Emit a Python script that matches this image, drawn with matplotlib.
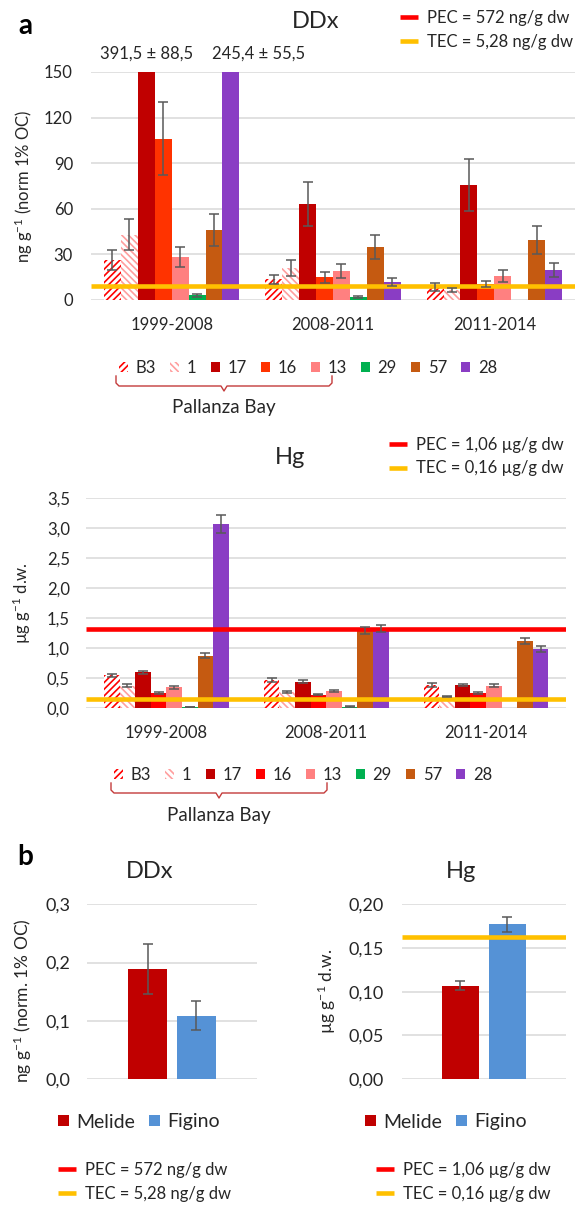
import numpy as np
import matplotlib.pyplot as plt
from matplotlib.lines import Line2D
from matplotlib.ticker import FuncFormatter

plt.rcParams['font.family'] = ['Lato', 'DejaVu Sans']
plt.rcParams['mathtext.fontset'] = 'custom'
plt.rcParams['mathtext.rm'] = 'Lato'
plt.rcParams['mathtext.it'] = 'Lato:italic'
plt.rcParams['mathtext.bf'] = 'Lato:bold'
plt.rcParams['hatch.linewidth'] = 1.2

# ---- data ----
periods = ['1999-2008', '2008-2011', '2011-2014']
sites = ['B3', '1', '17', '16', '13', '29', '57', '28']

# rows = sites, columns = periods
ddx_mean = [[26.5, 13.5, 8.5], [43, 21, 6.5], [391.5, 63, 75.5], [106, 15, 10.5],
            [28.5, 19, 16], [3, 2, np.nan], [46, 35, 39.5], [245.4, 12, 20]]
ddx_err = [[6.5, 3, 2.5], [10, 5, 1.5], [88.5, 14.5, 17], [24, 3.5, 2],
           [6.5, 4.5, 4], [1, 0.5, np.nan], [10.5, 8, 9.3], [55.5, 2.5, 4.6]]

hg_mean = [[0.55, 0.475, 0.39], [0.375, 0.27, 0.2], [0.6, 0.445, 0.39], [0.25, 0.23, 0.25],
           [0.35, 0.295, 0.375], [0.02, 0.03, np.nan], [0.88, 1.30, 1.13], [3.07, 1.33, 0.99]]
hg_err = [[0.03, 0.03, 0.03], [0.025, 0.02, 0.005], [0.03, 0.03, 0.02], [0.015, 0.01, 0.015],
          [0.02, 0.015, 0.025], [0.005, 0.005, np.nan], [0.045, 0.06, 0.05], [0.15, 0.06, 0.05]]

lakes = ['Melide', 'Figino']
ddx_b_mean = [0.189, 0.109]
ddx_b_err = [0.043, 0.025]
hg_b_mean = [0.107, 0.177]
hg_b_err = [0.005, 0.009]

# guideline levels as drawn in the figure
ddx_pec, ddx_tec = 572, 9.0
hg_pec, hg_tec = 1.32, 0.16
ddx_b_pec, ddx_b_tec = 572, 5.28
hg_b_pec, hg_b_tec = 1.06, 0.163

ddx_pec_lbl = 'PEC = 572 ng/g dw'
ddx_tec_lbl = 'TEC = 5,28 ng/g dw'
hg_pec_lbl = 'PEC = 1,06 µg/g dw'
hg_tec_lbl = 'TEC = 0,16 µg/g dw'

# ---- styles ----
ddx_colors = ['#FF0000', '#FF9E9E', '#C00000', '#FF3300', '#FF8080', '#00B050', '#C55A11', '#8A3DC4']
hg_colors = ['#FF0000', '#FF9E9E', '#C00000', '#FF0000', '#FF8080', '#00B050', '#C55A11', '#8A3DC4']
hatches = ['/////', '\\\\\\\\\\', None, None, None, None, None, None]
lake_colors = ['#C00000', '#5592D6']
PEC_C, TEC_C = '#FF0000', '#FFC000'
GRID = '#D9D9D9'
TXT = '#262626'
ekw = dict(ecolor='#595959', elinewidth=1.1, capsize=3.5, capthick=1.1, zorder=4)

W, H = 575, 1211
fig = plt.figure(figsize=(W / 100, H / 100), dpi=100)


def fx(px):
    return px / W


def fy(py):
    return 1 - py / H


def rect(x0, x1, ytop, ybot):
    return [fx(x0), fy(ybot), (x1 - x0) / W, (ybot - ytop) / H]


def comma(fmt):
    return FuncFormatter(lambda v, p: format(v, fmt).replace('.', ','))


def style(ax, ticks, fmt, ypad, size):
    ax.set_yticks(ticks)
    ax.set_ylim(ticks[0], ticks[-1])
    ax.yaxis.set_major_formatter(comma(fmt))
    ax.yaxis.grid(True, color=GRID, lw=1.1)
    ax.set_axisbelow(True)
    for s in ax.spines.values():
        s.set_visible(False)
    ax.tick_params(axis='y', length=0, pad=ypad, labelsize=size, labelcolor=TXT)


def grouped(ax, means, errs, colors, width):
    x = np.arange(len(periods))
    conts = []
    for i, s in enumerate(sites):
        pos = x + (i - 3.5) * width
        if hatches[i]:
            kw = dict(color='white', edgecolor=colors[i], hatch=hatches[i], linewidth=0)
        else:
            kw = dict(color=colors[i], linewidth=0)
        conts.append(ax.bar(pos, means[i], width, yerr=errs[i], error_kw=ekw, **kw))
    ax.set_xticks(x)
    ax.set_xticklabels(periods)
    ax.set_xlim(-0.5, 2.5)
    ax.tick_params(axis='x', length=0, pad=12, labelsize=12, labelcolor=TXT)
    return conts


def brace(x0, x1, ytop, ybot, ytip, text, ytext):
    xm = (x0 + x1) / 2
    xs = [x0, x0, x0 + 3, xm - 3, xm, xm + 3, x1 - 3, x1, x1]
    ys = [ytop, ybot - 3, ybot, ybot, ytip, ybot, ybot, ybot - 3, ytop]
    fig.add_artist(Line2D([fx(v) for v in xs], [fy(v) for v in ys], color='#C43B3B', lw=1.0))
    fig.text(fx(xm), fy(ytext), text, ha='center', va='center', fontsize=13.5, color=TXT)


def series_legend(handles, x, y):
    fig.legend(handles, sites, ncol=8, loc='center left', bbox_to_anchor=(fx(x), fy(y)),
               frameon=False, fontsize=12, handlelength=0.55, handleheight=0.55,
               handletextpad=0.45, columnspacing=0.85, borderpad=0, borderaxespad=0,
               labelcolor=TXT)


def level_legend(lines, labels, x, y):
    fig.legend(lines, labels, loc='upper left', bbox_to_anchor=(fx(x), fy(y)),
               frameon=False, fontsize=12, handlelength=1.1, handletextpad=0.5,
               labelspacing=0.45, borderpad=0, borderaxespad=0, labelcolor=TXT)


def hline(ax, y, c):
    return ax.axhline(y, color=c, lw=3.3, zorder=3, solid_capstyle='butt')


# ---- panel a: DDx ----
ax1 = fig.add_axes(rect(91, 575, 72, 300))
w1 = 0.105
c1 = grouped(ax1, ddx_mean, ddx_err, ddx_colors, w1)
style(ax1, np.arange(0, 151, 30), '.0f', 13, 12)
ax1.set_ylabel('ng g$^{-1}$ (norm 1% OC)', fontsize=12, va='center', color=TXT)
ax1.yaxis.set_label_coords((24 - 91) / 484, 0.5)
l1 = [hline(ax1, ddx_pec, PEC_C), hline(ax1, ddx_tec, TEC_C)]
# off-scale values written above the clipped bars
for i, dx in [(2, 0), (7, 28)]:
    m, e = ddx_mean[i][0], ddx_err[i][0]
    txt = f'{m:.1f} ± {e:.1f}'.replace('.', ',')
    ax1.annotate(txt, xy=((i - 3.5) * w1, 1), xycoords=('data', 'axes fraction'),
                 xytext=(dx, 18), textcoords='offset pixels', ha='center', va='center',
                 fontsize=12, color=TXT)
fig.text(fx(25), fy(26), 'a', fontsize=20, fontweight='bold', ha='center', va='center')
fig.text(fx(316), fy(22), 'DDx', fontsize=17, ha='center', va='center', color=TXT)
level_legend(l1, [ddx_pec_lbl, ddx_tec_lbl], 400, 10)
series_legend(c1, 119, 368)
brace(116, 332, 376, 386, 391, 'Pallanza Bay', 408)

# ---- panel a: Hg ----
ax2 = fig.add_axes(rect(86.5, 566, 498.3, 708.3))
w2 = 0.0975
c2 = grouped(ax2, hg_mean, hg_err, hg_colors, w2)
style(ax2, np.arange(0, 3.51, 0.5), '.1f', 12, 12)
ax2.set_ylabel('µg g$^{-1}$ d.w.', fontsize=12, va='center', color=TXT)
ax2.yaxis.set_label_coords((22 - 86.5) / 479.5, 0.5)
l2 = [hline(ax2, hg_pec, PEC_C), hline(ax2, hg_tec, TEC_C)]
fig.text(fx(290), fy(457), 'Hg', fontsize=17, ha='center', va='center', color=TXT)
level_legend(l2, [hg_pec_lbl, hg_tec_lbl], 389, 437)
series_legend(c2, 114, 775)
brace(111, 327, 783, 793, 798, 'Pallanza Bay', 815)

# ---- panel b ----
fig.text(fx(25), fy(857), 'b', fontsize=20, fontweight='bold', ha='center', va='center')
xb = (np.arange(len(lakes)) - 0.5) * 1.26

ax3 = fig.add_axes(rect(87, 257, 904.3, 1079))
b3 = ax3.bar(xb, ddx_b_mean, 1.0, color=lake_colors, yerr=ddx_b_err, error_kw=ekw)
ax3.set_xlim(-2.2, 2.2)
ax3.set_xticks([])
style(ax3, np.arange(0, 0.31, 0.1), '.1f', 12, 13)
ax3.set_ylabel('ng g$^{-1}$ (norm. 1% OC)', fontsize=12.5, va='center', color=TXT)
ax3.yaxis.set_label_coords((23 - 87) / 170, 0.45)
l3 = [hline(ax3, ddx_b_pec, PEC_C), hline(ax3, ddx_b_tec, TEC_C)]
fig.text(fx(150), fy(871), 'DDx', fontsize=17, ha='center', va='center', color=TXT)

ax4 = fig.add_axes(rect(401.7, 566, 904.3, 1079))
b4 = ax4.bar(xb, hg_b_mean, 1.0, color=lake_colors, yerr=hg_b_err, error_kw=ekw)
ax4.set_xlim(-2.2, 2.2)
ax4.set_xticks([])
style(ax4, np.arange(0, 0.201, 0.05), '.2f', 13, 13)
ax4.set_ylabel('µg g$^{-1}$ d.w.', fontsize=12.5, va='center', color=TXT)
ax4.yaxis.set_label_coords((327 - 401.7) / 164.3, 0.5)
l4 = [hline(ax4, hg_b_pec, PEC_C), hline(ax4, hg_b_tec, TEC_C)]
fig.text(fx(461), fy(871), 'Hg', fontsize=17, ha='center', va='center', color=TXT)

for bars, x in [(b3, 58), (b4, 365)]:
    fig.legend(list(bars.patches), lakes, ncol=2, loc='center left',
               bbox_to_anchor=(fx(x), fy(1122)), frameon=False, fontsize=14,
               handlelength=0.55, handleheight=0.55, handletextpad=0.4,
               columnspacing=0.7, borderpad=0, borderaxespad=0, labelcolor=TXT)
level_legend(l3, [ddx_pec_lbl, ddx_tec_lbl], 58, 1162)
level_legend(l4, [hg_pec_lbl, hg_tec_lbl], 376, 1162)

fig.savefig('out.png', dpi=100)
